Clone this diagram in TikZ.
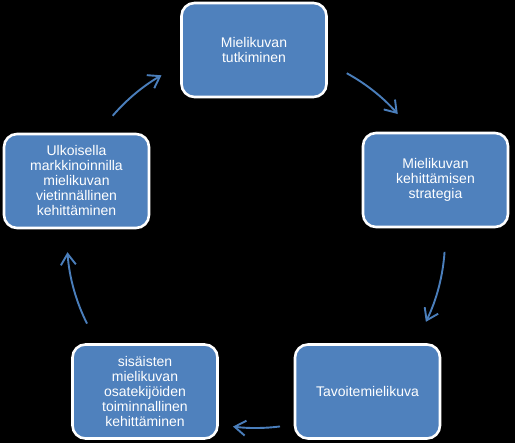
\documentclass[tikz,border=0pt]{standalone}
\usepackage{fontspec}
\setmainfont{Liberation Sans}
\usetikzlibrary{arrows.meta}
\definecolor{boxblue}{HTML}{4F81BD}
\definecolor{arrowblue}{HTML}{4A7EBB}
\tikzset{
  cyclebox/.style={draw=white, line width=2.6pt, fill=boxblue, rounded corners=13pt,
    minimum width=145pt, minimum height=94pt, align=center, text=white,
    font=\fontsize{14}{15}\selectfont, inner sep=2pt},
  flow/.style={draw=arrowblue, line width=1.9pt,
    -{Straight Barb[length=11pt,width=15pt]}}
}
\begin{document}
\begin{tikzpicture}[x=1pt,y=1pt]
\fill[black] (0,0) rectangle (515,443);
\useasboundingbox (0,0) rectangle (515,443);
\node[cyclebox] (b1) at (254,393) {Mielikuvan\\tutkiminen};
\node[cyclebox] (b2) at (435.5,263) {Mielikuvan\\kehittämisen\\strategia};
\node[cyclebox] (b3) at (367.5,51.5) {Tavoitemielikuva};
\node[cyclebox] (b4) at (145,51.5) {sisäisten\\mielikuvan\\osatekijöiden\\toiminnallinen\\kehittäminen};
\node[cyclebox] (b5) at (76.5,262) {Ulkoisella\\markkinoinnilla\\mielikuvan\\vietinnällinen\\kehittäminen};
\coordinate (O) at (256,204);
\coordinate (s1) at ([shift={(61.3:189)}]O);
\coordinate (s2) at ([shift={(-3.9:189)}]O);
\coordinate (s3) at ([shift={(-82.7:189)}]O);
\coordinate (s4) at ([shift={(-153.4:189)}]O);
\coordinate (s5) at ([shift={(139.3:189)}]O);
\draw[flow] (s1) arc[start angle=61.3, end angle=41.4, radius=189];
\draw[flow] (s2) arc[start angle=-3.9, end angle=-26, radius=189];
\draw[flow] (s3) arc[start angle=-82.7, end angle=-97, radius=189];
\draw[flow] (s4) arc[start angle=-153.4, end angle=-176, radius=189];
\draw[flow] (s5) arc[start angle=139.3, end angle=120, radius=189];
\end{tikzpicture}
\end{document}
